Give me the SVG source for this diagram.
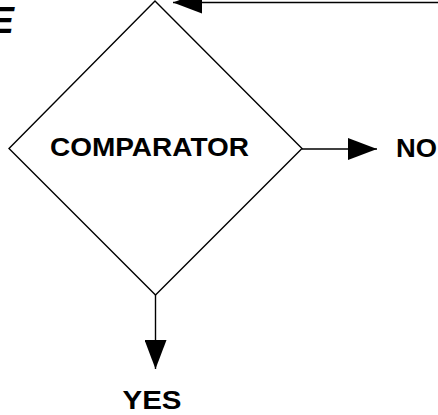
<svg xmlns="http://www.w3.org/2000/svg" width="438" height="415" viewBox="0 0 438 415">
<defs>
<style>
.lbl{font-family:"Liberation Sans",Arial,Helvetica,sans-serif;font-weight:bold;font-size:25px;fill:#000}
.edge{stroke:#000;stroke-width:1.4;fill:none}
</style>
<marker id="ah" viewBox="0 0 29 22" refX="29" refY="11" markerWidth="29" markerHeight="22" markerUnits="userSpaceOnUse" orient="auto">
<path d="M0,0 L29,11 L0,22 Z" fill="#000"/>
</marker>
</defs>
<rect width="438" height="415" fill="#fff"/>
<g id="label-top">
<text x="14" y="33" text-anchor="end" font-family="Liberation Sans, Arial, sans-serif" font-weight="bold" font-style="italic" font-size="37">E</text>
</g>
<g id="comparator">
<polygon points="155,1 302,148.5 155.5,295 9,148.5" fill="#fff" stroke="#000" stroke-width="1.4"/>
<text class="lbl" x="149.5" y="156" text-anchor="middle" textLength="199" lengthAdjust="spacingAndGlyphs">COMPARATOR</text>
</g>
<g id="no">
<text class="lbl" x="396" y="157" textLength="41" lengthAdjust="spacingAndGlyphs">NO</text>
</g>
<g id="yes">
<text class="lbl" x="152" y="409" text-anchor="middle" textLength="59" lengthAdjust="spacingAndGlyphs">YES</text>
</g>
<g id="connectors">
<line class="edge" x1="438" y1="2.5" x2="173" y2="2.5" marker-end="url(#ah)"/>
<line class="edge" x1="302" y1="149" x2="377" y2="149" marker-end="url(#ah)"/>
<line class="edge" x1="155.5" y1="295" x2="155.5" y2="369" marker-end="url(#ah)"/>
</g>
</svg>
